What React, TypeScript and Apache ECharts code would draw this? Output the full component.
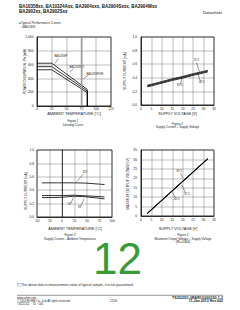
import React, { useEffect, useRef } from "react";
import * as echarts from "echarts";

const FONT = '"Liberation Sans", Arial, sans-serif';

// Figure 1: Derating curve
const derateTemp = [0, 25, 85, 85];
const derateF = [620, 620, 240, 0];
const derateFV = [570, 570, 217, 0];
const derateFVM = [525, 525, 193, 0];
const derateNames = ["BA10358F", "BA10358FV", "BA10358FVM"];

// Figure 2: Supply current - supply voltage
const vccPoints = [3, 5, 10, 15, 20, 25, 30, 32];
const iccVcc25 = [0.29, 0.305, 0.345, 0.385, 0.42, 0.46, 0.495, 0.51];
const iccVccM40 = [0.28, 0.293, 0.333, 0.373, 0.408, 0.448, 0.483, 0.498];
const iccVcc85 = [0.268, 0.281, 0.321, 0.361, 0.396, 0.436, 0.471, 0.486];

// Figure 3: Supply current - ambient temperature
const taPoints = [-40, -20, 0, 25, 50, 75, 85];
const iccTa32V = [0.51, 0.51, 0.51, 0.51, 0.505, 0.49, 0.485];
const iccTa5V = [0.32, 0.32, 0.32, 0.325, 0.315, 0.305, 0.3];
const iccTa3V = [0.29, 0.29, 0.295, 0.31, 0.3, 0.28, 0.27];

// Figure 4: Maximum output voltage - supply voltage
const vomVcc = [3, 5, 10, 15, 20, 25, 30, 32];
const vomM40 = [1.5, 3.5, 8.5, 13.5, 18.5, 23.5, 28.5, 30.5];
const vom25 = [1.35, 3.35, 8.35, 13.35, 18.35, 23.35, 28.35, 30.35];
const vom85 = [1.2, 3.2, 8.2, 13.2, 18.2, 23.2, 28.2, 30.2];

// axis ranges
const ax1X = { min: 0, max: 125, interval: 25 };
const ax1Y = { min: 0, max: 1000, interval: 200 };
const ax2X = { min: 0, max: 35, interval: 5 };
const ax2Y = { min: 0, max: 1.0, interval: 0.2 };
const ax3X = { min: -50, max: 100, interval: 25 };
const ax3Y = { min: 0, max: 1.0, interval: 0.2 };
const ax4X = { min: 0, max: 35, interval: 5 };
const ax4Y = { min: 0, max: 35, interval: 5 };

const zip = (xs: number[], ys: number[]) => xs.map((x, i) => [x, ys[i]]);

function xAxisOf(g: number, r: any, margin = 2) {
  return {
    type: "value",
    gridIndex: g,
    ...r,
    axisLine: { show: true, lineStyle: { color: "#000", width: 0.7 } },
    axisTick: { show: false },
    axisLabel: { fontSize: 3.3, color: "#222", margin, fontFamily: FONT },
    splitLine: { show: true, lineStyle: { color: "#555", width: 0.4 } },
  };
}
function yAxisOf(g: number, r: any, fmt?: (v: number) => string, margin = 3.5) {
  return {
    type: "value",
    gridIndex: g,
    ...r,
    axisLine: { show: true, lineStyle: { color: "#000", width: 0.7 } },
    axisTick: { show: false },
    axisLabel: { fontSize: 3.3, color: "#222", margin, fontFamily: FONT, formatter: fmt },
    splitLine: { show: true, lineStyle: { color: "#555", width: 0.4 } },
  };
}
function lineSeries(g: number, data: number[][], w = 0.8) {
  return {
    type: "line",
    xAxisIndex: g,
    yAxisIndex: g,
    data,
    showSymbol: false,
    symbol: "none",
    lineStyle: { color: "#000", width: w },
    silent: true,
  };
}

function txt(x: number, y: number, text: string, fontSize: number, extra: any = {}) {
  const { align = "left", verticalAlign = "middle", fontWeight = "normal", fill = "#222", rotation = 0 } = extra;
  return {
    type: "text",
    x,
    y,
    rotation,
    silent: true,
    style: { text, fontSize, fontFamily: FONT, fill, align, verticalAlign, fontWeight },
  };
}
function ln(x1: number, y1: number, x2: number, y2: number, w = 0.4, c = "#000") {
  return { type: "line", silent: true, shape: { x1, y1, x2, y2 }, style: { stroke: c, lineWidth: w } };
}

const f2 = (v: number) => v.toFixed(1);

export default function App() {
  const ref = useRef<HTMLDivElement>(null);
  useEffect(() => {
    if (!ref.current) return;
    const chart = echarts.init(ref.current, undefined, { renderer: "svg" });
    const gridBase = { show: true, borderColor: "#000", borderWidth: 0.7, containLabel: false };
    chart.setOption({
      animation: false,
      backgroundColor: "#fff",
      grid: [
        { ...gridBase, left: 37, top: 37, width: 74, height: 69 },
        { ...gridBase, left: 141, top: 37, width: 73, height: 68 },
        { ...gridBase, left: 37, top: 150, width: 75, height: 67 },
        { ...gridBase, left: 141, top: 150, width: 73, height: 66 },
      ],
      xAxis: [xAxisOf(0, ax1X, 1.5), xAxisOf(1, ax2X), xAxisOf(2, ax3X), xAxisOf(3, ax4X, 2.5)],
      yAxis: [yAxisOf(0, ax1Y), yAxisOf(1, ax2Y, f2, 4), yAxisOf(2, ax3Y, f2, 3), yAxisOf(3, ax4Y, undefined, 4)],
      series: [
        {
          ...lineSeries(0, zip(derateTemp, derateF)),
          markLine: {
            silent: true,
            symbol: "none",
            label: { show: false },
            lineStyle: { color: "#999", width: 1.4, type: "solid" },
            data: [{ xAxis: 75 }],
          },
        },
        lineSeries(0, zip(derateTemp, derateFV)),
        lineSeries(0, zip(derateTemp, derateFVM)),
        lineSeries(1, zip(vccPoints, iccVcc25)),
        lineSeries(1, zip(vccPoints, iccVccM40)),
        lineSeries(1, zip(vccPoints, iccVcc85)),
        lineSeries(2, zip(taPoints, iccTa32V)),
        lineSeries(2, zip(taPoints, iccTa5V)),
        lineSeries(2, zip(taPoints, iccTa3V)),
        lineSeries(3, zip(vomVcc, vomM40), 0.9),
        lineSeries(3, zip(vomVcc, vom25), 0.9),
        lineSeries(3, zip(vomVcc, vom85), 0.9),
      ],
      graphic: [
        // header
        txt(19, 6.8, "BA10358xx, BA10324Axx, BA2904xxx, BA2904Sxxx, BA2904Wxx", 4.5, { fontWeight: "bold", fill: "#111" }),
        txt(19, 11.6, "BA2902xx, BA2902Sxx", 4.5, { fontWeight: "bold", fill: "#111" }),
        txt(222, 12, "Datasheet", 4.2, { align: "right", fill: "#111" }),
        txt(19, 22.8, "●Typical Performance Curves", 3.2),
        txt(21, 26.6, "○BA10358", 3),
        // figure 1
        txt(25, 71.5, "POWER DISSIPATION : Pd [mW]", 3, { align: "center", rotation: Math.PI / 2 }),
        txt(74, 114.3, "AMBIENT TEMPERATURE [°C]", 3.8, { align: "center" }),
        txt(73, 121, "Figure 1", 3, { align: "center" }),
        txt(73, 124.2, "Derating Curve", 3, { align: "center" }),
        txt(54.5, 57, derateNames[0], 2.7),
        ln(58.5, 58.5, 55, 63.5),
        txt(69.5, 67.3, derateNames[1], 2.7),
        ln(73.5, 68.5, 70, 72),
        txt(86.5, 74.3, derateNames[2], 2.7),
        ln(88, 75.5, 83.5, 78.5),
        // figure 2
        txt(124.5, 71, "SUPPLY CURRENT [mA]", 3.3, { align: "center", rotation: Math.PI / 2 }),
        txt(177.5, 114.3, "SUPPLY VOLTAGE [V]", 3.8, { align: "center" }),
        txt(177.5, 123.8, "Figure 2", 3, { align: "center" }),
        txt(177.5, 127, "Supply Current – Supply Voltage", 3, { align: "center" }),
        txt(196.5, 61, "25°C", 2.7, { align: "center" }),
        ln(196.5, 62.5, 199.5, 72),
        txt(180, 86, "85°C", 2.7, { align: "center" }),
        ln(180.5, 84.5, 182, 77.5),
        txt(201.5, 83, "-40°C", 2.7, { align: "center" }),
        ln(200.5, 81.5, 198, 74),
        // figure 3
        txt(25.5, 191, "SUPPLY CURRENT [mA]", 3.3, { align: "center", rotation: Math.PI / 2 }),
        txt(75, 228.7, "AMBIENT TEMPERATURE [°C]", 3.8, { align: "center" }),
        txt(70, 235, "Figure 3", 3, { align: "center" }),
        txt(70, 238.4, "Supply Current – Ambient Temperature", 3, { align: "center" }),
        txt(85, 173, "32V", 2.7, { align: "center" }),
        ln(83, 174.5, 77, 181.5),
        txt(69.5, 205, "5V", 2.7, { align: "center" }),
        ln(70.8, 203.3, 73.5, 197.5),
        txt(79.5, 207.5, "3V", 2.7, { align: "center" }),
        ln(80.8, 206, 84, 199),
        // figure 4
        txt(127.7, 184, "MAXIMUM OUTPUT VOLTAGE [V]", 3.3, { align: "center", rotation: Math.PI / 2 }),
        txt(178, 228.7, "SUPPLY VOLTAGE [V]", 3.8, { align: "center" }),
        txt(183, 235, "Figure 4", 3, { align: "center" }),
        txt(183, 238.4, "Maximum Output Voltage – Supply Voltage", 3, { align: "center" }),
        txt(183, 241.8, "(RL=10kΩ)", 3, { align: "center" }),
        txt(179.5, 171.7, "85°C", 2.7, { align: "center" }),
        ln(180.5, 173.3, 183, 178),
        txt(187, 194.3, "25°C", 2.7, { align: "center" }),
        ln(185.5, 192.7, 181.8, 185),
        txt(176.5, 199.5, "-40°C", 2.7, { align: "center" }),
        ln(175.5, 197.8, 172.5, 192.5),
        // big page number
        txt(93, 258, "12", 44, { fill: "#3a9a3a", verticalAlign: "middle" }),
        // note
        txt(17, 284.8, "(*) The above data is measurement value of typical sample, it is not guaranteed.", 3.3),
        // footer
        ln(17, 295.3, 223, 295.3, 0.5, "#333"),
        txt(17, 297.4, "www.rohm.com", 2.8),
        txt(17, 300.4, "© 2013 ROHM Co., Ltd. All rights reserved.", 2.8),
        txt(17, 303.4, "TSZ22111・15・001", 2.8),
        txt(113.5, 300.4, "12/40", 2.8, { align: "center" }),
        txt(223, 297.5, "TSZ02201-0RAR1G200150-1-2", 3.6, { align: "right", fontWeight: "bold" }),
        txt(223, 301, "11.Jan.2013 Rev.002", 3.6, { align: "right", fontWeight: "bold" }),
      ],
    });
    return () => chart.dispose();
  }, []);
  return (
    <div
      ref={ref}
      style={{ position: "fixed", left: 0, top: 0, width: 240, height: 310, background: "#fff" }}
    />
  );
}
